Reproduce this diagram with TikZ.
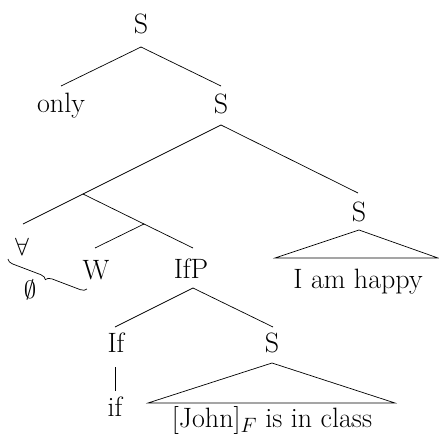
\documentclass[tikz,border=0pt]{standalone}
\usepackage{fontspec}
\setmainfont{Latin Modern Roman}
\usetikzlibrary{decorations.pathreplacing}
\begin{document}
\begin{tikzpicture}[x=1pt,y=-1pt,
  lbl/.style={inner sep=0pt,anchor=base,font=\fontsize{28}{32}\selectfont},
  edge/.style={line width=0.7pt,black},
  bracestyle/.style={line width=0.7pt,decorate,decoration={brace,mirror,amplitude=6pt}}]
\useasboundingbox (0,0) rectangle (439,436);
% nodes
\node[lbl] (s0) at (141,34) {S};
\node[lbl] (only) at (61,112) {only};
\node[lbl] (s1) at (221,113) {S};
\node[lbl] (forall) at (22,255) {$\forall$};
\node[lbl] (w) at (96,279) {W};
\node[lbl] (ifp) at (191,278) {IfP};
\node[lbl] (s2) at (359,221) {S};
\node[lbl] (happy) at (358,288) {I am happy};
\node[lbl] (ifh) at (116,352) {If};
\node[lbl] (s3) at (272,352) {S};
\node[lbl] (ifw) at (115,416) {if};
\node[lbl] (john) at (272,427) {[John]$_F$ is in class};
\node[lbl,anchor=center] (empty) at (30,290) {$\emptyset$};
% attachment points
\coordinate (s0b) at (141,47);
\coordinate (onlyt) at (61,86);
\coordinate (s1t) at (221,86);
\coordinate (s1b) at (221,125);
\coordinate (x) at (83,194);
\coordinate (forallt) at (23,224);
\coordinate (y) at (144,224);
\coordinate (wt) at (95,248);
\coordinate (ifpt) at (193,248);
\coordinate (ifpb) at (193,288);
\coordinate (s2t) at (358,193);
\coordinate (s2b) at (359,230);
\coordinate (t1l) at (275,258);
\coordinate (t1r) at (438,258);
\coordinate (ifht) at (115,327);
\coordinate (ifhb) at (115,367);
\coordinate (ifwt) at (115,391);
\coordinate (s3t) at (273,327);
\coordinate (s3b) at (272,363);
\coordinate (t2l) at (148,403);
\coordinate (t2r) at (395,403);
\coordinate (br1) at (8,259);
\coordinate (br2) at (87,289);
% edges
\draw[edge] (onlyt) -- (s0b) -- (s1t);
\draw[edge] (x) -- (s1b) -- (s2t);
\draw[edge] (forallt) -- (x) -- (y);
\draw[edge] (wt) -- (y) -- (ifpt);
\draw[edge] (ifht) -- (ifpb) -- (s3t);
\draw[edge] (ifhb) -- (ifwt);
\draw[edge] (s2b) -- (t1l) -- (t1r) -- cycle;
\draw[edge] (s3b) -- (t2l) -- (t2r) -- cycle;
\draw[bracestyle] (br1) -- (br2);
\end{tikzpicture}
\end{document}
